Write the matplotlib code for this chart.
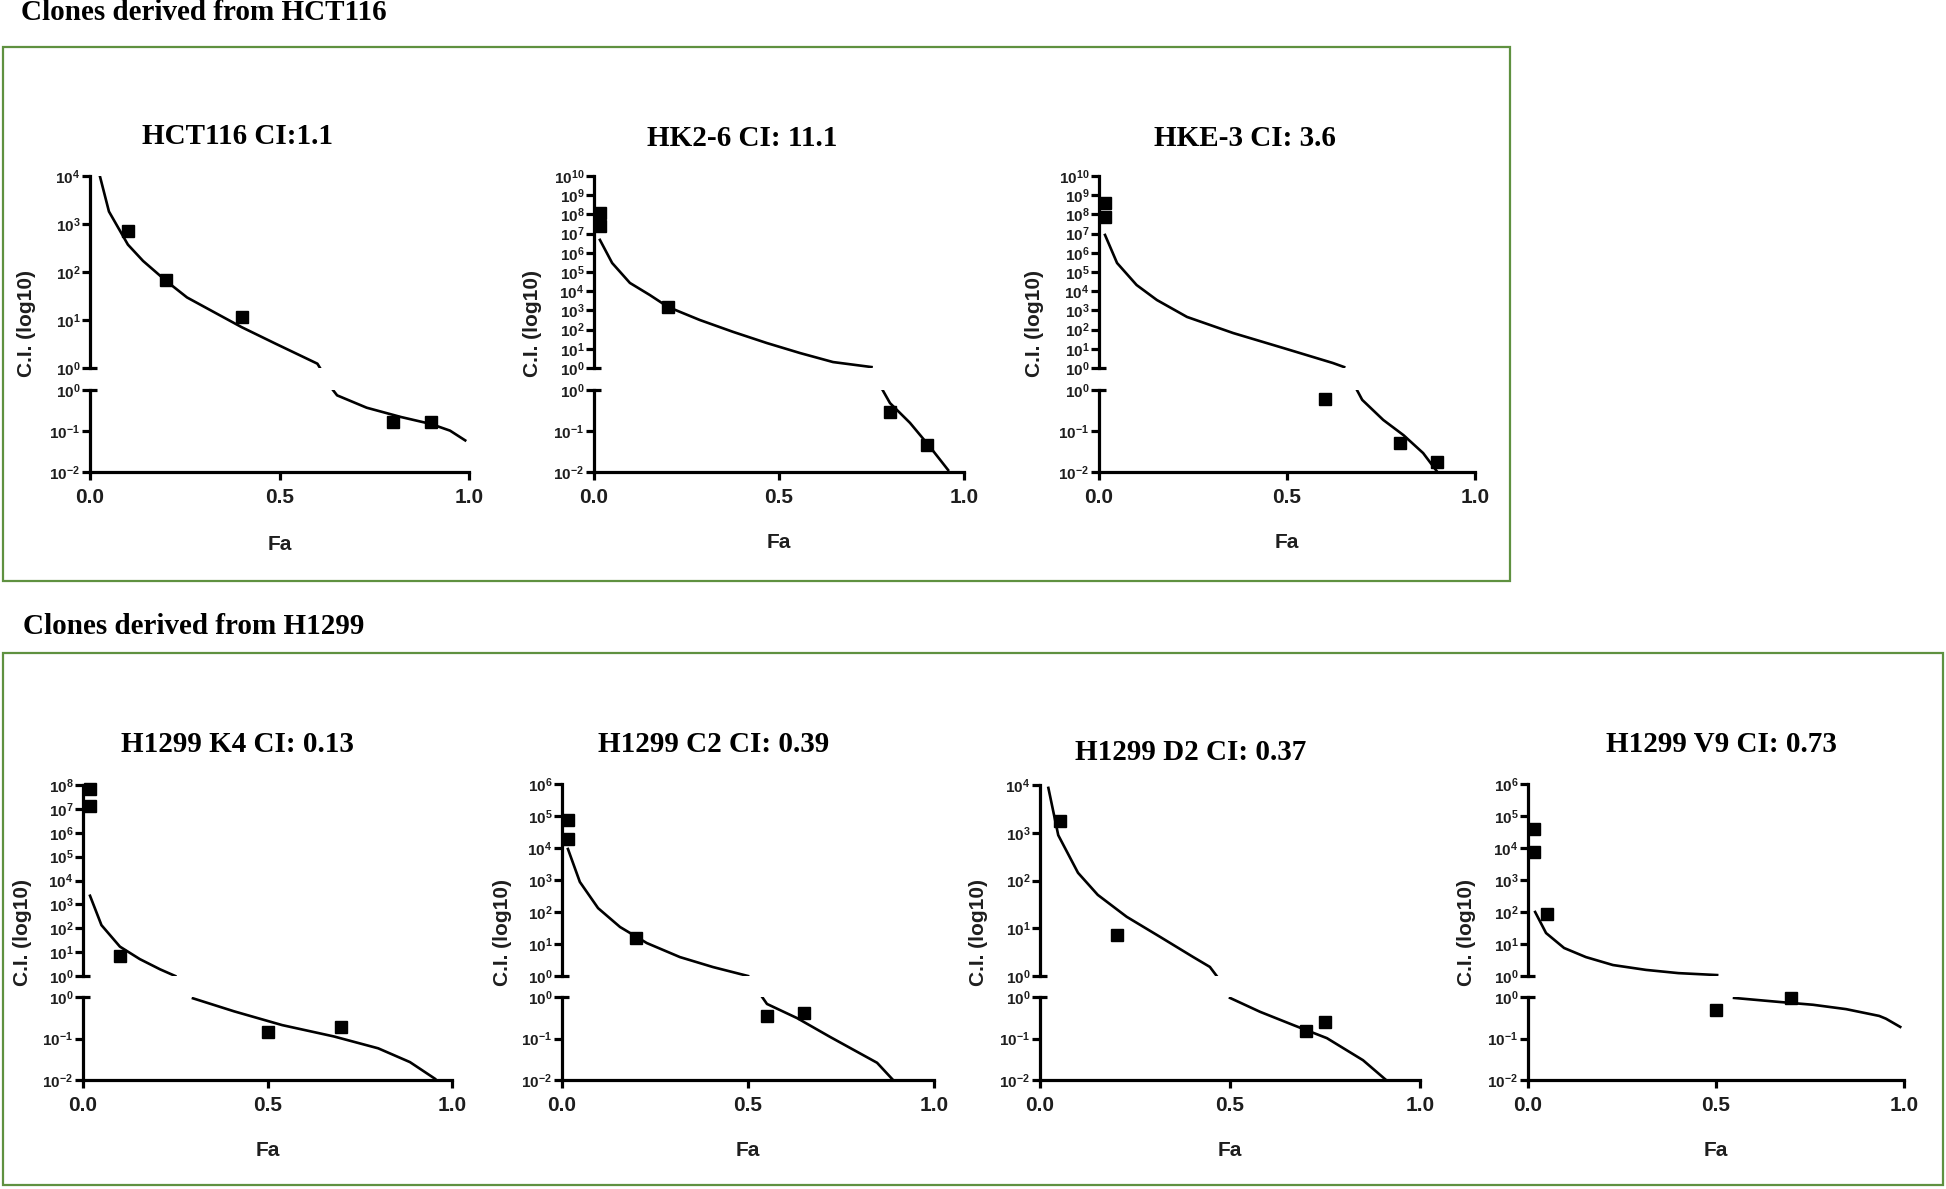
"""Combination-index (Fa vs C.I.) panels for HCT116- and H1299-derived clones.

Each panel uses a Prism-style broken log axis: C.I. >= 1 on top, C.I. <= 1 below.
"""
import matplotlib

matplotlib.use("Agg")
import matplotlib.pyplot as plt
from matplotlib.patches import Rectangle
from matplotlib.ticker import NullLocator

# --------------------------------------------------------------------------------------
# Data
# --------------------------------------------------------------------------------------
# HCT116 CI:1.1
HCT116_PT_FA = [0.10, 0.20, 0.40, 0.80, 0.90]
HCT116_PT_CI = [710, 69, 11.5, 0.165, 0.165]
HCT116_UP_FA = [0.026, 0.05, 0.10, 0.14, 0.20, 0.256, 0.335, 0.40, 0.49, 0.60, 0.607]
HCT116_UP_CI = [10000, 1820, 372, 170, 66, 29.5, 13.5, 7.1, 3.2, 1.23, 1.0]
HCT116_LO_FA = [0.641, 0.652, 0.73, 0.82, 0.90, 0.95, 0.99]
HCT116_LO_CI = [1.0, 0.74, 0.37, 0.22, 0.148, 0.102, 0.059]

# HK2-6 CI: 11.1
HK26_PT_FA = [0.016, 0.016, 0.20, 0.80, 0.90]
HK26_PT_CI = [1.2e8, 2.5e7, 1500, 0.29, 0.046]
HK26_UP_FA = [0.016, 0.049, 0.097, 0.151, 0.20, 0.286, 0.376, 0.467, 0.557, 0.646, 0.75]
HK26_UP_CI = [4.7e6, 2.95e5, 2.7e4, 6300, 1510, 316, 76, 20, 6.0, 2.04, 1.12]
HK26_LO_FA = [0.78, 0.80, 0.854, 0.908, 0.957]
HK26_LO_CI = [1.0, 0.48, 0.158, 0.041, 0.0112]

# HKE-3 CI: 3.6
HKE3_PT_FA = [0.016, 0.016, 0.60, 0.80, 0.90]
HKE3_PT_CI = [4e8, 7.4e7, 0.6, 0.05, 0.018]
HKE3_UP_FA = [0.016, 0.048, 0.10, 0.154, 0.234, 0.357, 0.49, 0.622, 0.652]
HKE3_UP_CI = [8.5e6, 2.95e5, 2.1e4, 3470, 457, 66, 11, 1.82, 1.12]
HKE3_LO_FA = [0.686, 0.70, 0.756, 0.81, 0.862, 0.90]
HKE3_LO_CI = [1.0, 0.575, 0.186, 0.079, 0.029, 0.01]

# H1299 K4 CI: 0.13
K4_PT_FA = [0.019, 0.019, 0.10, 0.50, 0.70]
K4_PT_CI = [6.6e7, 1.3e7, 7.1, 0.145, 0.19]
K4_UP_FA = [0.019, 0.05, 0.10, 0.154, 0.209, 0.25]
K4_UP_CI = [2300, 135, 17, 5.1, 1.9, 1.0]
K4_LO_FA = [0.298, 0.41, 0.54, 0.68, 0.80, 0.886, 0.954]
K4_LO_CI = [0.93, 0.45, 0.21, 0.112, 0.058, 0.027, 0.0107]

# H1299 C2 CI: 0.39
C2_PT_FA = [0.016, 0.016, 0.20, 0.55, 0.65]
C2_PT_CI = [7.5e4, 1.9e4, 15.5, 0.35, 0.41]
C2_UP_FA = [0.016, 0.048, 0.097, 0.156, 0.228, 0.317, 0.406, 0.50]
C2_UP_CI = [9300, 870, 132, 34, 10.7, 3.9, 1.9, 1.0]
C2_LO_FA = [0.538, 0.551, 0.632, 0.72, 0.793, 0.847, 0.89]
C2_LO_CI = [1.0, 0.68, 0.31, 0.11, 0.048, 0.026, 0.01]

# H1299 D2 CI: 0.37
D2_PT_FA = [0.053, 0.203, 0.70, 0.75]
D2_PT_CI = [1780, 7.2, 0.15, 0.25]
D2_UP_FA = [0.022, 0.048, 0.10, 0.152, 0.228, 0.316, 0.403, 0.447, 0.465]
D2_UP_CI = [8700, 890, 145, 50, 17.4, 6.6, 2.5, 1.55, 1.0]
D2_LO_FA = [0.50, 0.579, 0.667, 0.755, 0.85, 0.908]
D2_LO_CI = [0.95, 0.44, 0.21, 0.102, 0.030, 0.0105]

# H1299 V9 CI: 0.73
V9_PT_FA = [0.016, 0.016, 0.05, 0.50, 0.70]
V9_PT_CI = [4e4, 7.6e3, 87, 0.49, 0.95]
V9_UP_FA = [0.019, 0.048, 0.096, 0.154, 0.226, 0.314, 0.40, 0.503]
V9_UP_CI = [100, 22, 7.5, 3.9, 2.2, 1.55, 1.23, 1.07]
V9_LO_FA = [0.548, 0.668, 0.758, 0.846, 0.934, 0.952, 0.99]
V9_LO_CI = [0.95, 0.76, 0.65, 0.51, 0.35, 0.30, 0.19]

TITLES = [
    "HCT116 CI:1.1",
    "HK2-6 CI: 11.1",
    "HKE-3 CI: 3.6",
    "H1299 K4 CI: 0.13",
    "H1299 C2 CI: 0.39",
    "H1299 D2 CI: 0.37",
    "H1299 V9 CI: 0.73",
]
UPPER_DECADES = [4, 10, 10, 8, 6, 4, 6]
X_TICKS = [0.0, 0.5, 1.0]
X_TICK_LABELS = ["0.0", "0.5", "1.0"]
GROUP_HEADERS = ["Clones derived from HCT116", "Clones derived from H1299"]

# --------------------------------------------------------------------------------------
# Layout (pixels on a 1946 x 1189 canvas)
# --------------------------------------------------------------------------------------
W, H = 1946, 1189
GREEN = "#5f9140"
INK = "#1e1e1e"
SERIF = ["Liberation Serif", "DejaVu Serif"]
SANS = ["Liberation Sans", "DejaVu Sans"]
LW = 2.3

# x_left, x_right, upper_top, upper_bottom, lower_top, lower_bottom
GEOM = [
    (90, 469, 176, 368, 390, 472),
    (594, 964, 176, 368, 390, 472),
    (1099, 1475, 176, 368, 390, 472),
    (83, 452, 785, 976, 997, 1080),
    (562, 934, 784, 976, 997, 1080),
    (1040, 1420, 785, 976, 997, 1080),
    (1528, 1904, 784, 976, 997, 1080),
]
TITLE_XY = [(237, 137), (742, 138), (1245, 138), (237, 745), (714, 745), (1191, 752), (1721, 745)]
YLABEL_X = [27, 533, 1035, 23, 502, 978, 1466]
XLABEL_Y = [544, 543, 543, 1150, 1150, 1150, 1150]
BOXES = [(3, 47, 1510, 581), (3, 653, 1943, 1185)]
HEADER_XY = [(21, 13), (23, 626)]

plt.rcParams.update(
    {
        "mathtext.fontset": "custom",
        "mathtext.rm": "Liberation Sans",
        "mathtext.bf": "Liberation Sans:bold",
        "font.family": SANS,
    }
)


def px_rect(x0, x1, y0, y1):
    return [x0 / W, 1 - y1 / H, (x1 - x0) / W, (y1 - y0) / H]


def style_axis(ax):
    for side in ("top", "right"):
        ax.spines[side].set_visible(False)
    ax.spines["left"].set_linewidth(LW)
    ax.spines["bottom"].set_linewidth(LW)
    ax.tick_params(axis="both", which="major", direction="out", length=5.5, width=LW,
                   color="black", pad=1.5)
    ax.tick_params(axis="x", pad=6)
    ax.yaxis.set_minor_locator(NullLocator())
    ax.xaxis.set_minor_locator(NullLocator())


def decade_labels(exps):
    return [rf"$\mathbf{{10^{{{k}}}}}$" for k in exps]


def draw_panel(fig, idx, pt_fa, pt_ci, up_fa, up_ci, lo_fa, lo_ci):
    x0, x1, ut, ub, lt, lb = GEOM[idx]
    top = UPPER_DECADES[idx]

    ax_up = fig.add_axes(px_rect(x0, x1, ut, ub))
    ax_lo = fig.add_axes(px_rect(x0, x1, lt, lb))
    for ax in (ax_up, ax_lo):
        ax.set_yscale("log")
        ax.set_xlim(0, 1)
        ax.patch.set_alpha(0)
        style_axis(ax)

    ax_up.set_ylim(1, 10.0**top)
    ax_up.spines["bottom"].set_visible(False)
    ax_up.set_xticks([])
    exps = list(range(0, top + 1))
    ax_up.set_yticks([10.0**k for k in exps])
    ax_up.set_yticklabels(decade_labels(exps))
    ax_up.yaxis.set_minor_locator(NullLocator())

    ax_lo.set_ylim(0.01, 1)
    ax_lo.set_yticks([1, 0.1, 0.01])
    ax_lo.set_yticklabels(decade_labels([0, -1, -2]))
    ax_lo.yaxis.set_minor_locator(NullLocator())
    ax_lo.set_xticks(X_TICKS)
    ax_lo.set_xticklabels(X_TICK_LABELS, fontsize=15, fontweight="bold", color=INK)

    for ax in (ax_up, ax_lo):
        for lab in ax.get_yticklabels():
            lab.set_fontsize(11)
            lab.set_color(INK)

    # break marks: short stubs to the right of the spine at the 10^0 ends
    stub = 7 / (x1 - x0)
    ax_up.plot([0, stub], [0, 0], transform=ax_up.transAxes, color="black", lw=LW,
               clip_on=False, solid_capstyle="butt")
    ax_lo.plot([0, stub], [1, 1], transform=ax_lo.transAxes, color="black", lw=LW,
               clip_on=False, solid_capstyle="butt")

    ax_up.plot(up_fa, up_ci, color="black", lw=1.9)
    ax_lo.plot(lo_fa, lo_ci, color="black", lw=1.9)

    up_pts = [(f, c) for f, c in zip(pt_fa, pt_ci) if c >= 1]
    lo_pts = [(f, c) for f, c in zip(pt_fa, pt_ci) if c < 1]
    if up_pts:
        ax_up.plot([p[0] for p in up_pts], [p[1] for p in up_pts], "s", color="black",
                   ms=8.3, clip_on=False, zorder=5)
    if lo_pts:
        ax_lo.plot([p[0] for p in lo_pts], [p[1] for p in lo_pts], "s", color="black",
                   ms=8.3, clip_on=False, zorder=5)

    tx, ty = TITLE_XY[idx]
    fig.text(tx / W, 1 - ty / H, TITLES[idx], ha="center", va="center",
             family=SERIF, fontweight="bold", fontsize=21)
    fig.text(YLABEL_X[idx] / W, 1 - ((ut + lb) / 2) / H, "C.I. (log10)", rotation=90,
             ha="center", va="center", fontsize=15, fontweight="bold", color=INK)
    fig.text(((x0 + x1) / 2) / W, 1 - XLABEL_Y[idx] / H, "Fa", ha="center", va="center",
             fontsize=15, fontweight="bold", color=INK)


def main():
    fig = plt.figure(figsize=(W / 100, H / 100), dpi=100)
    fig.patch.set_facecolor("white")

    # group boxes and headers
    for (bx0, by0, bx1, by1) in BOXES:
        fig.patches.append(Rectangle((bx0 / W, 1 - by1 / H), (bx1 - bx0) / W, (by1 - by0) / H,
                                     transform=fig.transFigure, fill=False,
                                     edgecolor=GREEN, lw=1.6))
    for (hx, hy), header in zip(HEADER_XY, GROUP_HEADERS):
        fig.text(hx / W, 1 - hy / H, header, ha="left", va="center",
                 family=SERIF, fontweight="bold", fontsize=21)

    panels = [
        (HCT116_PT_FA, HCT116_PT_CI, HCT116_UP_FA, HCT116_UP_CI, HCT116_LO_FA, HCT116_LO_CI),
        (HK26_PT_FA, HK26_PT_CI, HK26_UP_FA, HK26_UP_CI, HK26_LO_FA, HK26_LO_CI),
        (HKE3_PT_FA, HKE3_PT_CI, HKE3_UP_FA, HKE3_UP_CI, HKE3_LO_FA, HKE3_LO_CI),
        (K4_PT_FA, K4_PT_CI, K4_UP_FA, K4_UP_CI, K4_LO_FA, K4_LO_CI),
        (C2_PT_FA, C2_PT_CI, C2_UP_FA, C2_UP_CI, C2_LO_FA, C2_LO_CI),
        (D2_PT_FA, D2_PT_CI, D2_UP_FA, D2_UP_CI, D2_LO_FA, D2_LO_CI),
        (V9_PT_FA, V9_PT_CI, V9_UP_FA, V9_UP_CI, V9_LO_FA, V9_LO_CI),
    ]
    for i, data in enumerate(panels):
        draw_panel(fig, i, *data)

    fig.savefig("out.png", dpi=100)
    plt.close(fig)


if __name__ == "__main__":
    main()
